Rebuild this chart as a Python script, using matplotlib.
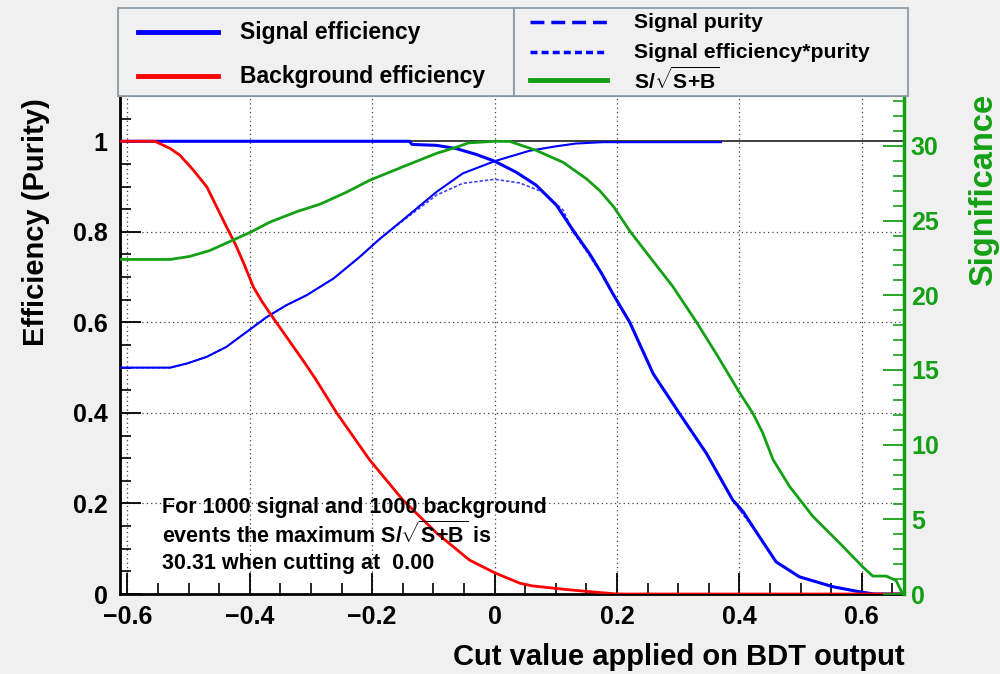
import matplotlib
matplotlib.use("Agg")
import matplotlib.pyplot as plt
from matplotlib.patches import Rectangle
from matplotlib.lines import Line2D
from matplotlib.ticker import MultipleLocator

plt.rcParams['font.family'] = ['Liberation Sans', 'DejaVu Sans']
plt.rcParams['font.weight'] = 'bold'
plt.rcParams['mathtext.fontset'] = 'custom'
plt.rcParams['mathtext.rm'] = 'Liberation Sans:bold'
plt.rcParams['mathtext.it'] = 'Liberation Sans:bold'
plt.rcParams['mathtext.bf'] = 'Liberation Sans:bold'

# ---------------- data ----------------
sig_eff_x = [-0.612, -0.139, -0.135, -0.095, -0.063, -0.030, 0.0, 0.035, 0.068, 0.101, 0.128,
             0.155, 0.175, 0.193, 0.221, 0.259, 0.302, 0.346, 0.389, 0.406, 0.433, 0.460,
             0.498, 0.553, 0.596, 0.62, 0.669]
sig_eff_y = [1.0, 1.0, 0.993, 0.991, 0.984, 0.971, 0.956, 0.932, 0.903, 0.859, 0.804,
             0.752, 0.708, 0.664, 0.600, 0.487, 0.399, 0.311, 0.208, 0.182, 0.126, 0.071,
             0.038, 0.016, 0.005, 0.0, 0.0]

bkg_eff_x = [-0.612, -0.555, -0.530, -0.514, -0.492, -0.470, -0.454, -0.438, -0.424, -0.410,
             -0.394, -0.380, -0.367, -0.340, -0.312, -0.293, -0.258, -0.204, -0.150, -0.095,
             -0.041, 0.0, 0.041, 0.061, 0.116, 0.165, 0.2, 0.669]
bkg_eff_y = [1.0, 1.0, 0.984, 0.969, 0.936, 0.899, 0.855, 0.811, 0.774, 0.731,
             0.678, 0.646, 0.620, 0.568, 0.514, 0.476, 0.400, 0.296, 0.208, 0.135,
             0.075, 0.047, 0.024, 0.018, 0.010, 0.004, 0.0, 0.0]

purity_x = [-0.612, -0.530, -0.503, -0.470, -0.438, -0.405, -0.372, -0.340, -0.307, -0.263,
            -0.220, -0.187, -0.150, -0.095, -0.052, 0.0, 0.057, 0.101, 0.133, 0.177, 0.37]
purity_y = [0.500, 0.500, 0.509, 0.524, 0.546, 0.579, 0.612, 0.638, 0.660, 0.697,
            0.745, 0.785, 0.826, 0.888, 0.929, 0.956, 0.979, 0.989, 0.995, 0.998, 0.998]

effpur_x = [-0.612, -0.530, -0.503, -0.470, -0.438, -0.405, -0.372, -0.340, -0.307, -0.263,
            -0.220, -0.187, -0.150, -0.095, -0.052, 0.0, 0.041, 0.079, 0.112, 0.128, 0.155,
            0.175, 0.193, 0.221, 0.259, 0.302, 0.346, 0.389, 0.433, 0.460, 0.498, 0.553,
            0.596, 0.62, 0.669]
effpur_y = [0.500, 0.500, 0.509, 0.524, 0.546, 0.579, 0.612, 0.638, 0.660, 0.697,
            0.745, 0.785, 0.824, 0.881, 0.907, 0.916, 0.908, 0.888, 0.848, 0.800, 0.748,
            0.705, 0.662, 0.598, 0.486, 0.398, 0.310, 0.207, 0.126, 0.071, 0.038, 0.016,
            0.005, 0.0, 0.0]

signif_x = [-0.612, -0.530, -0.498, -0.465, -0.427, -0.400, -0.367, -0.323, -0.285, -0.242,
            -0.204, -0.150, -0.095, -0.063, -0.043, 0.0, 0.025, 0.068, 0.112, 0.150, 0.172,
            0.195, 0.221, 0.253, 0.291, 0.330, 0.362, 0.400, 0.422, 0.438, 0.455, 0.482, 0.520,
            0.564, 0.602, 0.618, 0.640, 0.656, 0.667]
signif_y = [22.4, 22.4, 22.6, 23.0, 23.7, 24.2, 24.9, 25.6, 26.1, 26.9,
            27.7, 28.6, 29.5, 29.9, 30.2, 30.31, 30.3, 29.7, 28.9, 27.8, 27.0,
            25.9, 24.3, 22.6, 20.6, 18.2, 16.1, 13.5, 12.1, 10.8, 9.0, 7.2, 5.2,
            3.4, 1.8, 1.2, 1.2, 0.9, 0.0]

max_signif = 30.31
best_cut = 0.00
n_signal = 1000
n_background = 1000

x_ticks = [-0.6, -0.4, -0.2, 0, 0.2, 0.4, 0.6]
x_tick_labels = ['\u22120.6', '\u22120.4', '\u22120.2', '0', '0.2', '0.4', '0.6']
y_ticks = [0, 0.2, 0.4, 0.6, 0.8, 1.0]
y_tick_labels = ['0', '0.2', '0.4', '0.6', '0.8', '1']
y2_ticks = [0, 5, 10, 15, 20, 25, 30]

# ---------------- style ----------------
W, H = 1000, 674
BG = '#f0f0f0'
BLUE = '#0000ff'
RED = '#ff0000'
GREEN = '#14a014'

fig = plt.figure(figsize=(W / 100, H / 100), dpi=100, facecolor=BG)


def fx(px):
    return px / W


def fy(py):
    return 1 - py / H


ax_l, ax_r, ax_t, ax_b = 120, 904, 96, 594
ax = fig.add_axes([fx(ax_l), fy(ax_b), fx(ax_r - ax_l), (ax_b - ax_t) / H])
ax.set_facecolor('white')
ax.set_xlim(-0.612, 0.669)
ax.set_ylim(0, 1.1)

ax.axhline(1.0, color='#303030', lw=1.3, zorder=1)
ax.plot(sig_eff_x, sig_eff_y, color=BLUE, lw=2.2, zorder=4)
ax.plot(bkg_eff_x, bkg_eff_y, color=RED, lw=2.0, zorder=4)
ax.plot(purity_x, purity_y, color=BLUE, lw=1.5, zorder=3)
ax.plot(effpur_x, effpur_y, color=BLUE, lw=1.2, ls=(0, (2, 1.2)), zorder=3, alpha=0.75)

ax2 = ax.twinx()
ax2.set_ylim(0, 1.1 * max_signif)
ax2.plot(signif_x, signif_y, color=GREEN, lw=2.0, zorder=4)

# grid
grid_kw = dict(color='#444444', lw=0.9, ls=(0, (1, 2.5)), zorder=0)
for xv in x_ticks:
    ax.axvline(xv, **grid_kw)
for yv in y_ticks[1:]:
    if yv != 1.0:
        ax.axhline(yv, **grid_kw)

# ticks
ax.set_xticks(x_ticks)
ax.set_xticklabels(x_tick_labels)
ax.set_yticks(y_ticks)
ax.set_yticklabels(y_tick_labels)
ax.xaxis.set_minor_locator(MultipleLocator(0.05))
ax.yaxis.set_minor_locator(MultipleLocator(0.05))
ax.tick_params(axis='both', which='both', direction='in', top=False, right=False,
               labelsize=18, colors='black')
ax.tick_params(axis='x', which='major', length=15, width=1.3, pad=8)
ax.tick_params(axis='x', which='minor', length=8, width=1.2)
ax.tick_params(axis='y', which='major', length=15, width=1.3, pad=9)
ax.tick_params(axis='y', which='minor', length=8, width=1.2)
for lab in ax.get_xticklabels() + ax.get_yticklabels():
    lab.set_fontweight('bold')

ax2.set_yticks(y2_ticks)
ax2.yaxis.set_minor_locator(MultipleLocator(1))
ax2.tick_params(axis='y', which='both', direction='in', colors=GREEN, labelsize=18)
ax2.tick_params(axis='y', which='major', length=15, width=1.3, pad=5)
ax2.tick_params(axis='y', which='minor', length=8, width=1.2)
for lab in ax2.get_yticklabels():
    lab.set_fontweight('bold')

for sp in ['left', 'bottom']:
    ax.spines[sp].set_linewidth(2)
    ax.spines[sp].set_color('black')
ax.spines['top'].set_linewidth(1.5)
ax.spines['top'].set_color('#606060')
ax.spines['right'].set_visible(False)
for sp in ['left', 'bottom', 'top']:
    ax2.spines[sp].set_visible(False)
ax2.spines['right'].set_color(GREEN)
ax2.spines['right'].set_linewidth(2.5)

# axis titles
fig.text(fx(905), fy(657), 'Cut value applied on BDT output', ha='right', va='center',
         fontsize=21, fontweight='bold')
fig.text(fx(36), fy(98), 'Efficiency (Purity)', rotation=90, ha='center', va='top',
         fontsize=21, fontweight='bold')
fig.text(fx(984), fy(94), 'Significance', rotation=90, ha='center', va='top',
         fontsize=23.5, fontweight='bold', color=GREEN)

# info text
info_lines = [f'For {n_signal} signal and {n_background} background',
              r'events the maximum S/$\sqrt{S{+}B}$ is',
              f'{max_signif:.2f} when cutting at  {best_cut:.2f}']
for i, t in enumerate(info_lines):
    fig.text(fx(162), fy(507 + 28 * i), t, ha='left', va='center', fontsize=15.5,
             fontweight='bold', zorder=6)

# legend boxes
border = '#8c9aa8'
fig.patches.append(Rectangle((fx(118), fy(96)), fx(396), (96 - 8) / H, transform=fig.transFigure,
                             facecolor=BG, edgecolor=border, lw=1.3, zorder=1))
fig.patches.append(Rectangle((fx(514), fy(96)), fx(394), (96 - 8) / H, transform=fig.transFigure,
                             facecolor=BG, edgecolor=border, lw=1.3, zorder=1))

legend_left = [('Signal efficiency', BLUE, '-', 32), ('Background efficiency', RED, '-', 76)]
for txt, col, ls, yy in legend_left:
    fig.lines.append(Line2D([fx(138), fx(218)], [fy(yy), fy(yy)], color=col, lw=3.5, ls=ls,
                            transform=fig.transFigure, zorder=3))
    fig.text(fx(240), fy(yy), txt, ha='left', va='center', fontsize=16.5, fontweight='bold',
             zorder=4)

legend_right = [('Signal purity', BLUE, (0, (4, 2)), 22, 2.5),
                ('Signal efficiency*purity', BLUE, (0, (2, 1.2)), 52, 2.5),
                (r'S/$\sqrt{S{+}B}$', GREEN, '-', 80, 3.5)]
for txt, col, ls, yy, lw in legend_right:
    fig.lines.append(Line2D([fx(530), fx(607)], [fy(yy), fy(yy)], color=col, lw=lw, ls=ls,
                            transform=fig.transFigure, zorder=3))
    fig.text(fx(634), fy(yy), txt, ha='left', va='center', fontsize=15.3, fontweight='bold',
             zorder=4)

fig.savefig('out.png', dpi=100, facecolor=BG)
